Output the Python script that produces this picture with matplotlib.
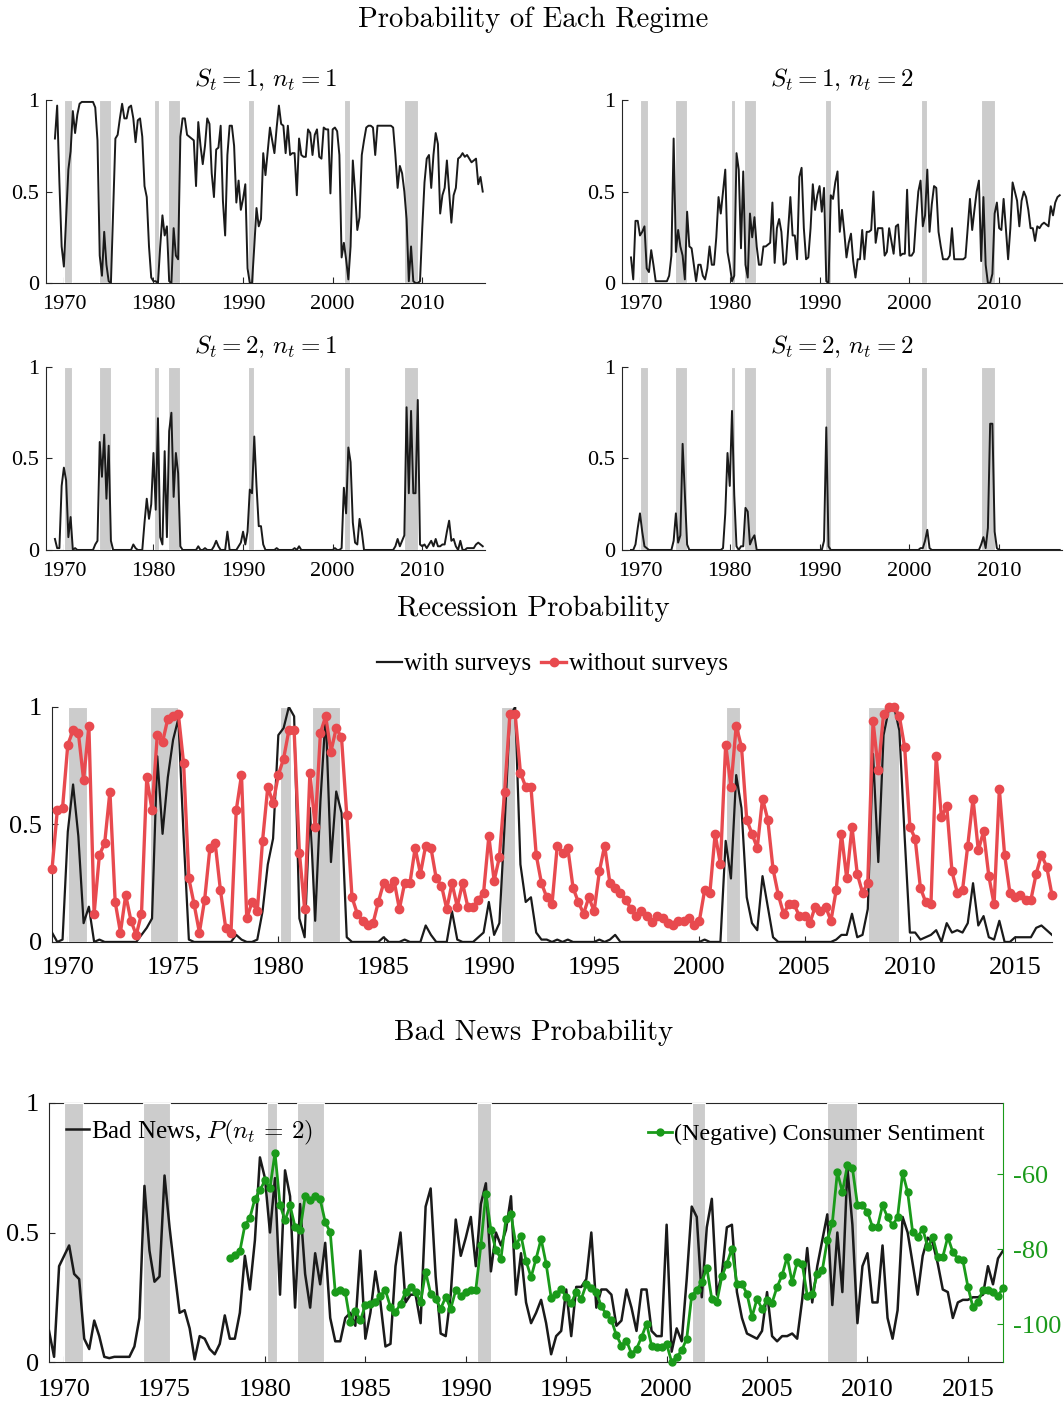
import numpy as np
import matplotlib
matplotlib.use("Agg")
import matplotlib.pyplot as plt

plt.rcParams["font.family"] = ["Liberation Serif", "DejaVu Serif"]
plt.rcParams["mathtext.fontset"] = "cm"

# quarterly regime probabilities, 1969Q1 .. 2016Q4 (one row per year)
p_s1_n1 = [
    0.79, 0.97, 0.55, 0.20,  0.09, 0.35, 0.62, 0.72,  0.94, 0.82, 0.92, 0.98,
    0.99, 0.99, 0.99, 0.99,  0.99, 0.99, 0.96, 0.78,  0.15, 0.04, 0.28, 0.10,
    0.01, 0.00, 0.40, 0.79,  0.81, 0.90, 0.98, 0.90,  0.90, 0.96, 0.97, 0.90,
    0.77, 0.89, 0.90, 0.80,  0.53, 0.47, 0.20, 0.03,  0.01, 0.01, 0.00, 0.20,
    0.37, 0.26, 0.31, 0.01,  0.00, 0.30, 0.15, 0.13,  0.80, 0.90, 0.90, 0.81,
    0.80, 0.79, 0.78, 0.53,  0.88, 0.75, 0.65, 0.75,  0.90, 0.87, 0.60, 0.47,
    0.73, 0.74, 0.86, 0.45,  0.26, 0.70, 0.86, 0.86,  0.75, 0.44, 0.56, 0.40,
    0.46, 0.54, 0.08, 0.00,  0.00, 0.20, 0.41, 0.31,  0.35, 0.71, 0.59, 0.72,
    0.85, 0.78, 0.71, 0.85,  0.97, 0.87, 0.86, 0.71,  0.86, 0.70, 0.71, 0.71,
    0.48, 0.79, 0.70, 0.69,  0.69, 0.84, 0.82, 0.70,  0.81, 0.84, 0.69, 0.68,
    0.85, 0.84, 0.84, 0.49,  0.84, 0.85, 0.83, 0.70,  0.14, 0.22, 0.13, 0.02,
    0.20, 0.67, 0.50, 0.29,  0.36, 0.70, 0.78, 0.85,  0.86, 0.86, 0.85, 0.70,
    0.86, 0.86, 0.86, 0.86,  0.86, 0.86, 0.86, 0.85,  0.70, 0.52, 0.64, 0.60,
    0.50, 0.35, 0.01, 0.20,  0.01, 0.00, 0.00, 0.01,  0.30, 0.55, 0.68, 0.70,
    0.52, 0.70, 0.82, 0.76,  0.38, 0.48, 0.52, 0.67,  0.50, 0.33, 0.48, 0.52,
    0.68, 0.69, 0.71, 0.69,  0.70, 0.68, 0.66, 0.67,  0.68, 0.54, 0.58, 0.50,
]
p_s1_n2 = [
    0.14, 0.02, 0.34, 0.34,  0.26, 0.28, 0.31, 0.08,  0.06, 0.18, 0.10, 0.01,
    0.01, 0.01, 0.01, 0.01,  0.01, 0.04, 0.15, 0.79,  0.17, 0.29, 0.20, 0.15,
    0.02, 0.39, 0.20, 0.19,  0.10, 0.01, 0.10, 0.10,  0.04, 0.02, 0.08, 0.20,
    0.10, 0.10, 0.25, 0.47,  0.38, 0.50, 0.62, 0.17,  0.10, 0.01, 0.04, 0.71,
    0.62, 0.19, 0.61, 0.10,  0.03, 0.38, 0.25, 0.36,  0.20, 0.10, 0.10, 0.20,
    0.20, 0.21, 0.22, 0.44,  0.11, 0.30, 0.35, 0.28,  0.10, 0.11, 0.29, 0.47,
    0.26, 0.26, 0.13, 0.58,  0.63, 0.30, 0.13, 0.14,  0.30, 0.54, 0.40, 0.48,
    0.53, 0.39, 0.52, 0.01,  0.00, 0.48, 0.46, 0.55,  0.61, 0.28, 0.40, 0.28,
    0.14, 0.22, 0.27, 0.12,  0.03, 0.13, 0.13, 0.29,  0.13, 0.28, 0.28, 0.29,
    0.50, 0.22, 0.30, 0.30,  0.30, 0.15, 0.17, 0.30,  0.23, 0.16, 0.31, 0.32,
    0.15, 0.16, 0.16, 0.51,  0.15, 0.15, 0.17, 0.35,  0.50, 0.56, 0.31, 0.37,
    0.62, 0.28, 0.43, 0.53,  0.52, 0.28, 0.20, 0.13,  0.13, 0.13, 0.15, 0.30,
    0.13, 0.13, 0.13, 0.13,  0.13, 0.14, 0.30, 0.46,  0.29, 0.40, 0.50, 0.56,
    0.12, 0.47, 0.10, 0.00,  0.00, 0.05, 0.38, 0.44,  0.30, 0.29, 0.46, 0.30,
    0.13, 0.30, 0.55, 0.50,  0.45, 0.31, 0.45, 0.50,  0.47, 0.40, 0.30, 0.30,
    0.23, 0.31, 0.30, 0.32,  0.33, 0.32, 0.31, 0.42,  0.37, 0.44, 0.47, 0.48,
]
p_s2_n1 = [
    0.06, 0.01, 0.01, 0.35,  0.45, 0.38, 0.07, 0.18,  0.00, 0.01, 0.00, 0.00,
    0.00, 0.00, 0.00, 0.00,  0.00, 0.00, 0.03, 0.05,  0.59, 0.40, 0.63, 0.28,
    0.57, 0.05, 0.00, 0.00,  0.00, 0.00, 0.00, 0.00,  0.00, 0.00, 0.00, 0.03,
    0.01, 0.00, 0.00, 0.00,  0.15, 0.28, 0.17, 0.25,  0.53, 0.22, 0.72, 0.07,
    0.03, 0.54, 0.07, 0.65,  0.75, 0.29, 0.53, 0.42,  0.02, 0.00, 0.00, 0.00,
    0.00, 0.00, 0.00, 0.00,  0.02, 0.00, 0.00, 0.01,  0.00, 0.00, 0.00, 0.02,
    0.05, 0.02, 0.00, 0.00,  0.00, 0.10, 0.00, 0.00,  0.00, 0.00, 0.02, 0.04,
    0.10, 0.03, 0.10, 0.33,  0.31, 0.62, 0.35, 0.13,  0.13, 0.03, 0.00, 0.00,
    0.00, 0.00, 0.00, 0.01,  0.00, 0.00, 0.00, 0.00,  0.00, 0.00, 0.00, 0.01,
    0.00, 0.02, 0.00, 0.00,  0.00, 0.00, 0.00, 0.00,  0.00, 0.00, 0.00, 0.00,
    0.00, 0.00, 0.00, 0.00,  0.00, 0.01, 0.00, 0.00,  0.01, 0.34, 0.20, 0.56,
    0.48, 0.15, 0.04, 0.03,  0.17, 0.10, 0.00, 0.00,  0.00, 0.00, 0.00, 0.00,
    0.00, 0.00, 0.00, 0.00,  0.00, 0.00, 0.00, 0.00,  0.02, 0.06, 0.02, 0.05,
    0.08, 0.78, 0.31, 0.76,  0.31, 0.31, 0.82, 0.03,  0.02, 0.03, 0.01, 0.03,
    0.05, 0.02, 0.06, 0.02,  0.02, 0.03, 0.03, 0.10,  0.16, 0.05, 0.06, 0.02,
    0.00, 0.05, 0.00, 0.00,  0.01, 0.01, 0.01, 0.01,  0.03, 0.04, 0.03, 0.02,
]
p_s2_n2 = [
    0.00, 0.00, 0.03, 0.12,  0.20, 0.10, 0.02, 0.01,  0.00, 0.00, 0.00, 0.00,
    0.00, 0.00, 0.00, 0.00,  0.00, 0.00, 0.00, 0.05,  0.20, 0.04, 0.08, 0.58,
    0.30, 0.03, 0.00, 0.00,  0.00, 0.00, 0.00, 0.00,  0.00, 0.00, 0.00, 0.00,
    0.00, 0.00, 0.00, 0.00,  0.00, 0.01, 0.20, 0.53,  0.35, 0.76, 0.30, 0.02,
    0.00, 0.02, 0.02, 0.23,  0.21, 0.03, 0.06, 0.08,  0.00, 0.00, 0.00, 0.00,
    0.00, 0.00, 0.00, 0.00,  0.00, 0.00, 0.00, 0.00,  0.00, 0.00, 0.00, 0.00,
    0.00, 0.00, 0.00, 0.00,  0.00, 0.00, 0.00, 0.00,  0.00, 0.00, 0.00, 0.00,
    0.00, 0.00, 0.05, 0.67,  0.02, 0.00, 0.00, 0.00,  0.00, 0.00, 0.00, 0.00,
    0.00, 0.00, 0.00, 0.00,  0.00, 0.00, 0.00, 0.00,  0.00, 0.00, 0.00, 0.00,
    0.00, 0.00, 0.00, 0.00,  0.00, 0.00, 0.00, 0.00,  0.00, 0.00, 0.00, 0.00,
    0.00, 0.00, 0.00, 0.00,  0.00, 0.00, 0.00, 0.00,  0.00, 0.01, 0.01, 0.05,
    0.11, 0.01, 0.00, 0.00,  0.00, 0.00, 0.00, 0.00,  0.00, 0.00, 0.00, 0.00,
    0.00, 0.00, 0.00, 0.00,  0.00, 0.00, 0.00, 0.00,  0.00, 0.00, 0.00, 0.00,
    0.03, 0.07, 0.01, 0.12,  0.69, 0.69, 0.10, 0.01,  0.00, 0.00, 0.00, 0.00,
    0.00, 0.00, 0.00, 0.00,  0.00, 0.00, 0.00, 0.00,  0.00, 0.00, 0.00, 0.00,
    0.00, 0.00, 0.00, 0.00,  0.00, 0.00, 0.00, 0.00,  0.00, 0.00, 0.00, 0.00,
]
regime_titles = [r"$S_t = 1,\, n_t = 1$", r"$S_t = 1,\, n_t = 2$",
                 r"$S_t = 2,\, n_t = 1$", r"$S_t = 2,\, n_t = 2$"]

# recession probability, 1969Q2 .. 2016Q4
rec_with = [
    0.04, 0.00, 0.01,
    0.47, 0.67, 0.45, 0.08,  0.15, 0.00, 0.01, 0.00,  0.00, 0.00, 0.00, 0.00,
    0.00, 0.00, 0.03, 0.06,  0.10, 0.79, 0.46, 0.70,  0.86, 0.95, 0.45, 0.01,
    0.00, 0.00, 0.00, 0.00,  0.00, 0.00, 0.00, 0.00,  0.03, 0.01, 0.00, 0.00,
    0.01, 0.13, 0.33, 0.44,  0.88, 0.91, 1.00, 0.96,  0.10, 0.02, 0.57, 0.09,
    0.60, 0.97, 0.34, 0.64,  0.55, 0.02, 0.00, 0.00,  0.00, 0.00, 0.00, 0.00,
    0.02, 0.00, 0.00, 0.00,  0.01, 0.00, 0.00, 0.00,  0.07, 0.03, 0.00, 0.00,
    0.00, 0.13, 0.01, 0.00,  0.00, 0.00, 0.02, 0.04,  0.17, 0.03, 0.08, 0.50,
    0.96, 1.00, 0.33, 0.17,  0.19, 0.04, 0.01, 0.01,  0.00, 0.01, 0.00, 0.01,
    0.00, 0.00, 0.00, 0.00,  0.00, 0.01, 0.00, 0.01,  0.03, 0.00, 0.00, 0.00,
    0.00, 0.00, 0.00, 0.00,  0.00, 0.00, 0.00, 0.00,  0.00, 0.00, 0.00, 0.00,
    0.00, 0.01, 0.00, 0.00,  0.00, 0.43, 0.27, 0.71,  0.57, 0.19, 0.08, 0.05,
    0.28, 0.15, 0.02, 0.00,  0.00, 0.00, 0.00, 0.00,  0.00, 0.00, 0.00, 0.00,
    0.00, 0.00, 0.01, 0.03,  0.03, 0.12, 0.02, 0.03,  0.14, 0.80, 0.34, 0.88,
    0.99, 1.00, 0.90, 0.45,  0.04, 0.04, 0.01, 0.02,  0.03, 0.05, 0.00, 0.08,
    0.04, 0.05, 0.04, 0.08,  0.25, 0.07, 0.11, 0.02,  0.01, 0.09, 0.00, 0.00,
    0.02, 0.02, 0.02, 0.02,  0.06, 0.07, 0.05, 0.03,
]
rec_without = [
    0.31, 0.56, 0.57,
    0.84, 0.90, 0.89, 0.69,  0.92, 0.12, 0.37, 0.42,  0.64, 0.17, 0.04, 0.20,
    0.09, 0.03, 0.12, 0.70,  0.56, 0.88, 0.85, 0.95,  0.96, 0.97, 0.76, 0.27,
    0.16, 0.04, 0.18, 0.40,  0.42, 0.22, 0.06, 0.04,  0.56, 0.71, 0.10, 0.17,
    0.13, 0.43, 0.66, 0.59,  0.71, 0.78, 0.90, 0.90,  0.38, 0.14, 0.72, 0.49,
    0.89, 0.96, 0.81, 0.91,  0.87, 0.54, 0.19, 0.12,  0.09, 0.07, 0.08, 0.17,
    0.25, 0.23, 0.26, 0.14,  0.25, 0.25, 0.40, 0.29,  0.41, 0.40, 0.27, 0.24,
    0.14, 0.25, 0.15, 0.25,  0.15, 0.15, 0.18, 0.21,  0.45, 0.26, 0.36, 0.64,
    0.97, 0.97, 0.72, 0.66,  0.66, 0.37, 0.25, 0.19,  0.16, 0.41, 0.38, 0.40,
    0.23, 0.17, 0.12, 0.19,  0.13, 0.30, 0.41, 0.25,  0.23, 0.21, 0.18, 0.14,
    0.11, 0.13, 0.11, 0.085, 0.11, 0.10, 0.08, 0.07,  0.09, 0.09, 0.10, 0.07,
    0.09, 0.22, 0.21, 0.46,  0.33, 0.84, 0.66, 0.92,  0.83, 0.52, 0.46, 0.40,
    0.61, 0.52, 0.31, 0.20,  0.12, 0.16, 0.16, 0.11,  0.11, 0.08, 0.15, 0.13,
    0.15, 0.09, 0.22, 0.46,  0.27, 0.49, 0.29, 0.21,  0.25, 0.94, 0.73, 0.97,
    1.00, 1.00, 0.96, 0.83,  0.49, 0.44, 0.23, 0.17,  0.16, 0.79, 0.53, 0.58,
    0.30, 0.21, 0.22, 0.41,  0.61, 0.39, 0.47, 0.28,  0.16, 0.65, 0.37, 0.21,
    0.19, 0.20, 0.18, 0.18,  0.29, 0.37, 0.32, 0.20,
]

# bad news probability P(n_t = 2), 1969Q2 .. 2016Q4
bad_news = [
    0.12, 0.02, 0.37,
    0.41, 0.45, 0.34, 0.32,  0.09, 0.05, 0.16, 0.10,  0.02, 0.015, 0.02, 0.02,
    0.02, 0.02, 0.06, 0.17,  0.68, 0.43, 0.31, 0.33,  0.72, 0.52, 0.35, 0.19,
    0.20, 0.13, 0.01, 0.10,  0.09, 0.05, 0.03, 0.07,  0.18, 0.09, 0.09, 0.19,
    0.41, 0.28, 0.47, 0.79,  0.71, 0.50, 0.71, 0.26,  0.74, 0.64, 0.21, 0.61,
    0.34, 0.21, 0.42, 0.30,  0.46, 0.17, 0.08, 0.08,  0.17, 0.19, 0.14, 0.43,
    0.09, 0.19, 0.35, 0.23,  0.06, 0.07, 0.37, 0.50,  0.23, 0.26, 0.26, 0.15,
    0.60, 0.67, 0.33, 0.11,  0.10, 0.26, 0.55, 0.41,  0.48, 0.56, 0.37, 0.61,
    0.69, 0.35, 0.50, 0.45,  0.51, 0.64, 0.26, 0.42,  0.23, 0.15, 0.19, 0.24,
    0.15, 0.03, 0.10, 0.12,  0.28, 0.10, 0.29, 0.29,  0.32, 0.50, 0.21, 0.28,
    0.28, 0.26, 0.14, 0.16,  0.28, 0.21, 0.12, 0.28,  0.28, 0.12, 0.10, 0.10,
    0.53, 0.04, 0.13, 0.08,  0.32, 0.60, 0.56, 0.25,  0.52, 0.63, 0.26, 0.34,
    0.52, 0.53, 0.27, 0.17,  0.11, 0.10, 0.09, 0.12,  0.27, 0.10, 0.08, 0.10,
    0.10, 0.11, 0.09, 0.24,  0.44, 0.23, 0.37, 0.47,  0.57, 0.22, 0.50, 0.27,
    0.75, 0.53, 0.15, 0.37,  0.42, 0.23, 0.23, 0.45,  0.17, 0.09, 0.20, 0.56,
    0.50, 0.38, 0.26, 0.41,  0.48, 0.46, 0.38, 0.28,  0.27, 0.17, 0.23, 0.24,
    0.24, 0.25, 0.25, 0.26,  0.37, 0.30, 0.40, 0.43,
]
# (negative) consumer sentiment, 1978Q2 .. 2016Q4
sentiment = [
    -82.3, -81.6, -80.5,
    -73.6, -71.6, -66.5, -64.3,  -61.6, -63.6, -54.3, -68.1,
    -72.3, -68.3, -74.0, -74.9,  -65.9, -66.8, -65.9, -66.7,
    -72.7, -75.4, -91.4, -90.9,  -91.4, -99.4, -96.3, -98.9,
    -94.9, -94.5, -94.0, -92.3,  -90.9, -95.4, -96.7, -94.5,
    -91.4, -90.0, -91.4, -94.0,  -86.0, -91.8, -93.2, -95.8,
    -92.7, -95.8, -90.9, -92.3,  -91.4, -90.9, -90.8, -78.9,
    -65.2, -74.9, -80.1, -82.5,  -71.8, -70.7, -78.9, -76.3,
    -83.1, -87.4, -82.5, -77.2,  -83.8, -92.9, -92.0, -90.5,
    -92.7, -94.3, -91.4, -93.2,  -89.3, -90.2, -91.4, -95.2,
    -97.3, -98.8, -102.9, -105.6, -104.3, -107.8, -106.5, -103.4,
    -99.8, -105.6, -106.0, -106.0, -105.2, -110.0, -108.7, -106.9,
    -103.8, -92.3, -90.9, -88.7,  -84.9, -93.2, -94.0, -87.2,
    -83.8, -79.8, -89.2, -89.2,  -91.8, -98.0, -93.2, -95.8,
    -93.6, -94.2, -90.0, -86.9,  -82.0, -88.7, -83.4, -83.8,
    -92.3, -92.0, -86.5, -85.6,  -77.6, -73.0, -59.4, -64.7,
    -57.6, -58.3, -68.1, -68.3,  -70.0, -74.0, -74.0, -68.3,
    -71.4, -73.6, -71.4, -59.6,  -64.7, -75.4, -76.7, -74.5,
    -79.4, -76.7, -82.0, -82.0,  -76.7, -80.7, -82.5, -82.9,
    -89.9, -95.4, -94.0, -90.8,  -90.9, -91.4, -92.4, -90.2,
]

# NBER recessions (peak, trough) as fractional years
recessions = [(1970.0, 1970.917), (1973.917, 1975.25), (1980.083, 1980.583),
              (1981.583, 1982.917), (1990.583, 1991.25), (2001.25, 2001.917),
              (2008.0, 2009.5)]

SHADE = "#cccccc"
RED = "#e84a4f"
GREEN = "#1a9a1a"
AXC = "0.15"

t_regime = 1969.0 + 0.25 * np.arange(len(p_s1_n1))
t_rec = 1969.25 + 0.25 * np.arange(len(rec_with))
t_sent = 1978.25 + 0.25 * np.arange(len(sentiment))


def shade(ax):
    for start, end in recessions:
        ax.axvspan(start, end, facecolor=SHADE, edgecolor="white",
                   linewidth=0.8, zorder=2.6)


def style(ax, labelsize, xpad, ypad):
    for side in ["left", "bottom", "top", "right"]:
        ax.spines[side].set_color(AXC)
        ax.spines[side].set_linewidth(0.8)
    ax.tick_params(direction="in", length=4, width=0.8, color=AXC,
                   labelsize=labelsize)
    ax.tick_params(axis="x", pad=xpad)
    ax.tick_params(axis="y", pad=ypad)
    ax.set_ylim(0, 1)
    ax.set_yticks([0, 0.5, 1])
    ax.set_yticklabels(["0", "0.5", "1"])


fig = plt.figure(figsize=(10.64, 14.04), dpi=100)

fig.text(0.501, 0.986, "Probability of Each Regime", family="cmr10",
         fontsize=20.8, ha="center", va="center")

panel_pos = [[0.0432, 0.7984, 0.4126, 0.1303], [0.5846, 0.7984, 0.4135, 0.1303],
             [0.0432, 0.6083, 0.4126, 0.1303], [0.5846, 0.6083, 0.4135, 0.1303]]
panel_data = [p_s1_n1, p_s1_n2, p_s2_n1, p_s2_n2]

for pos, vals, title in zip(panel_pos, panel_data, regime_titles):
    ax = fig.add_axes(pos)
    shade(ax)
    ax.plot(t_regime, vals, color="#1a1a1a", lw=1.4, zorder=3)
    ax.set_xlim(1968, 2017)
    ax.set_xticks([1970, 1980, 1990, 2000, 2010])
    style(ax, 16, 8.5, 5)
    ax.spines["top"].set_visible(False)
    ax.spines["right"].set_visible(False)
    ax.text(0.5, 1.11, title, transform=ax.transAxes, ha="center",
            va="center", fontsize=18)

# recession probability
fig.text(0.501, 0.5662, "Recession Probability", family="cmr10",
         fontsize=20.8, ha="center", va="center")
ax = fig.add_axes([0.0489, 0.3291, 0.9398, 0.1674])
shade(ax)
h1, = ax.plot(t_rec, rec_with, color="#1a1a1a", lw=1.6, zorder=3,
              label="with surveys")
h2, = ax.plot(t_rec, rec_without, color=RED, lw=2.4, marker="o", ms=6,
              zorder=4, clip_on=False, label="without surveys")
ax.set_xlim(1969.25, 2016.75)
ax.set_xticks(np.arange(1970, 2016, 5))
style(ax, 19, 10.5, 7)
ax.spines["top"].set_visible(False)
ax.spines["right"].set_visible(False)
fig.legend(handles=[h1, h2], loc="center", bbox_to_anchor=(0.519, 0.527),
           ncol=2, frameon=False, fontsize=18, handlelength=1.0,
           handletextpad=0.1, columnspacing=0.4, borderpad=0)

# bad news probability vs consumer sentiment
fig.text(0.501, 0.2642, "Bad News Probability", family="cmr10",
         fontsize=20.8, ha="center", va="center")
ax = fig.add_axes([0.0461, 0.0299, 0.8966, 0.1845])
shade(ax)
hb, = ax.plot(t_rec, bad_news, color="#1a1a1a", lw=1.8, zorder=3,
              label=r"Bad News, $P(n_t \,=\, 2)$")
ax.set_xlim(1969.25, 2016.75)
ax.set_xticks(np.arange(1970, 2016, 5))
style(ax, 19, 12, 7)
ax.spines["right"].set_visible(False)

ax2 = ax.twinx()
hs, = ax2.plot(t_sent, sentiment, color=GREEN, lw=2.0, marker="o", ms=5,
               clip_on=False, label="(Negative) Consumer Sentiment")
ax2.set_ylim(-110, -41)
ax2.set_yticks([-100, -80, -60])
ax2.set_yticklabels(["-100", "-80", "-60"])
for side in ["left", "top", "bottom"]:
    ax2.spines[side].set_visible(False)
ax2.spines["right"].set_color(GREEN)
ax2.spines["right"].set_linewidth(0.8)
ax2.tick_params(axis="y", direction="in", length=4, width=0.8, color=GREEN,
                labelcolor=GREEN, labelsize=19, pad=7)

ax.legend(handles=[hb], loc="center left", bbox_to_anchor=(0.018, 0.888),
          frameon=False, fontsize=18, handlelength=0.9, handletextpad=0.1,
          borderpad=0, borderaxespad=0)
ax2.legend(handles=[hs], loc="center right", bbox_to_anchor=(0.981, 0.88),
           frameon=False, fontsize=17.3, handlelength=1.0, handletextpad=0.1,
           borderpad=0, borderaxespad=0)

fig.savefig("out.png", dpi=100)
